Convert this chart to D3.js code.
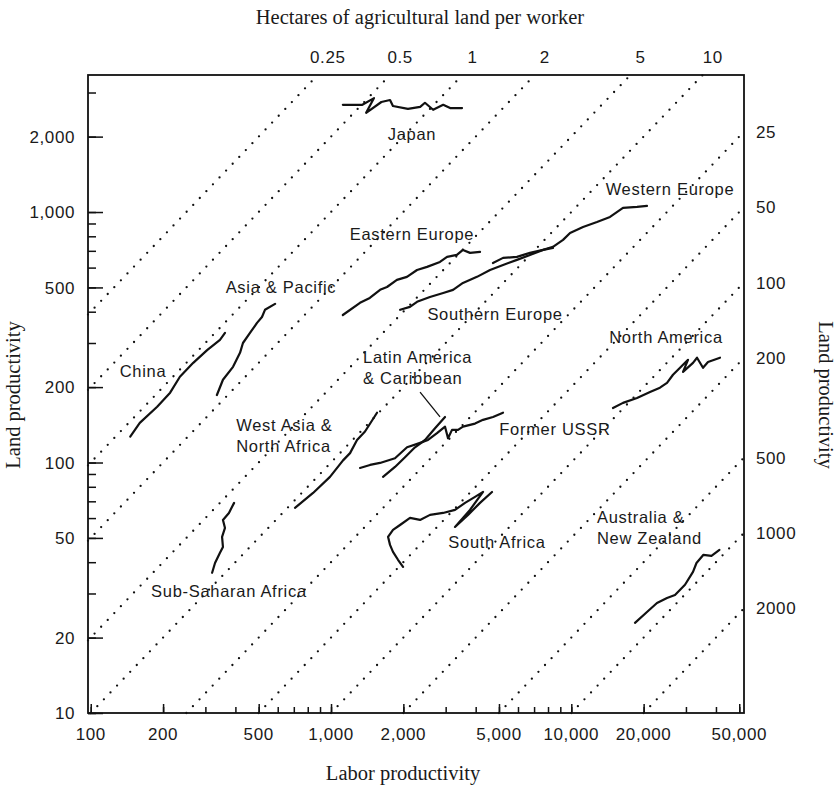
<!DOCTYPE html>
<html>
<head>
<meta charset="utf-8">
<script src="https://cdn.jsdelivr.net/npm/d3@7"></script>
<style>
  body { margin: 0; background: #fff; }
  svg text { font-family: "Liberation Sans", Arial, Helvetica, sans-serif; fill: #1a1a1a; }
  .tick-label { font-size: 17px; letter-spacing: 0.6px; }
  .region-label { font-size: 16.5px; letter-spacing: 0.7px; }
  .axis-title { font-family: "Liberation Serif", "Times New Roman", serif; font-size: 20.5px; }
</style>
</head>
<body>
<svg id="chart" width="840" height="788"></svg>
<script>
// ---- tick values ----
const laborTicks = [100, 200, 500, 1000, 2000, 5000, 10000, 20000, 50000];
const landTicks = [10, 20, 50, 100, 200, 500, 1000, 2000];
const hectaresTop = [0.25, 0.5, 1, 2, 5, 10];
const hectaresRight = [25, 50, 100, 200, 500, 1000, 2000];

// ---- regional paths (labor productivity, land productivity) ----
const japanLabor = [1120, 1350, 1510, 1400, 1620, 1760, 1810, 2090, 2350, 2460, 2660, 2930, 3130, 3510];
const japanLand  = [2680, 2680, 2850, 2490, 2750, 2800, 2650, 2580, 2630, 2730, 2560, 2680, 2600, 2600];

const eastEuLabor = [1120, 1320, 1450, 1600, 1710, 1880, 2070, 2280, 2510, 2840, 3040, 3340, 3540, 3790, 4170];
const eastEuLand  = [388, 434, 454, 489, 502, 536, 551, 587, 604, 632, 662, 674, 706, 687, 693];

const southEuLabor = [1940, 2130, 2280, 2580, 2930, 3220, 3540, 4050, 4590, 5200, 5940, 6730, 7630, 8390];
const southEuLand  = [407, 418, 438, 458, 475, 489, 521, 551, 587, 615, 644, 674, 706, 719];

const westEuLabor = [4720, 5200, 5940, 6730, 7630, 8390, 9240, 9880, 11190, 12790, 14490, 16410, 18770, 20650];
const westEuLand  = [626, 656, 662, 687, 706, 726, 774, 825, 872, 913, 956, 1039, 1048, 1058];

const asiaPacLabor = [335, 355, 391, 418, 430, 460, 492, 516, 531, 585];
const asiaPacLand  = [186, 214, 241, 274, 300, 329, 361, 381, 407, 430];

const chinaLabor = [146, 160, 189, 214, 235, 267, 305, 345, 362];
const chinaLand  = [127, 144, 167, 190, 220, 250, 281, 309, 329];

const westAsiaLabor = [708, 842, 990, 1122, 1200, 1283, 1385, 1554];
const westAsiaLand  = [65.9, 75.6, 87.6, 102, 109, 123, 133, 158];

const subSaharaLabor = [320, 329, 345, 355, 352, 362, 355, 376, 387, 395];
const subSaharaLand  = [36.3, 39.7, 43.6, 46.0, 50.5, 54.8, 59.0, 62.9, 66.5, 69.0];

const latAmLabor = [1646, 1846, 2032, 2236, 2462, 2709, 2982];
const latAmLand  = [87.6, 96.0, 105, 115, 123, 137, 152];

const ussrLabor = [1320, 1453, 1599, 1846, 2072, 2301, 2533, 2761, 2982, 3068, 3188, 3377, 3542, 3975, 4292, 4723, 5197];
const ussrLand  = [95.1, 97.8, 99.6, 104, 115, 119, 123, 131, 139, 125, 135, 135, 139, 143, 148, 152, 158];

const southAfLabor = [1994, 1900, 1811, 1760, 1727, 1811, 1937, 2132, 2347, 2582, 2925, 3281, 3612, 3975, 4292, 3787, 3281, 3718, 4169, 4677];
const southAfLand  = [38.3, 40.9, 44.0, 46.9, 50.5, 53.8, 56.3, 60.1, 59.0, 61.8, 62.9, 64.7, 69.0, 72.9, 76.3, 64.7, 55.3, 61.8, 69.0, 76.3];

const northAmLabor = [14910, 16410, 18770, 21260, 23390, 25020, 26500, 28350, 30600, 29170, 32100, 33360, 35330, 37060, 41580];
const northAmLand  = [165, 173, 181, 191, 199, 208, 224, 239, 257, 230, 250, 262, 239, 252, 262];

const anzLabor = [18410, 20650, 22730, 25020, 27010, 29730, 32100, 33190, 35480, 38310, 41360];
const anzLand  = [22.9, 25.3, 27.5, 28.8, 29.6, 32.5, 36.6, 39.7, 42.8, 42.4, 44.8];

// ---- region names and where their names sit (labor, land of the text anchor) ----
const regionNames = ["Japan", "Eastern Europe", "Western Europe", "Southern Europe", "Asia & Pacific",
  "China", "Latin America\n& Caribbean", "West Asia &\nNorth Africa", "Former USSR", "North America",
  "Sub-Saharan Africa", "South Africa", "Australia &\nNew Zealand"];
const nameAnchorLabor = [2173, 2173, 25750, 4814, 619, 165, 1359, 403, 8553, 24780, 376, 4907, 12790];
const nameAnchorLand  = [1940, 774, 1170, 371, 475, 220, 250, 133, 129, 300, 29.1, 45.6, 57.4];
const nameAlign = ["middle", "middle", "middle", "middle", "middle", "middle", "start", "start",
  "middle", "middle", "middle", "middle", "start"];

// leader from the Latin America name to its path
const leaderLabor = [2347, 2842];
const leaderLand  = [191, 152];

const paths = [
  [japanLabor, japanLand], [eastEuLabor, eastEuLand], [southEuLabor, southEuLand],
  [westEuLabor, westEuLand], [asiaPacLabor, asiaPacLand], [chinaLabor, chinaLand],
  [westAsiaLabor, westAsiaLand], [subSaharaLabor, subSaharaLand], [latAmLabor, latAmLand],
  [ussrLabor, ussrLand], [southAfLabor, southAfLand], [northAmLabor, northAmLand],
  [anzLabor, anzLand]
].map(([lx, ly]) => lx.map((v, i) => [v, ly[i]]));

// ---- layout ----
const svg = d3.select("#chart");
const plotLeft = 88, plotRight = 744, plotTop = 75, plotBottom = 713;

const x = d3.scaleLog().domain([97.4, 52330]).range([plotLeft, plotRight]);
const y = d3.scaleLog().domain([10, 3524]).range([plotBottom, plotTop]);

const [xMin, xMax] = x.domain();
const [yMin, yMax] = y.domain();

// minor ticks: every 1..9 multiple inside the domain
function minorTicks(lo, hi) {
  const out = [];
  for (let p = Math.floor(Math.log10(lo)); p <= Math.ceil(Math.log10(hi)); p++) {
    for (let m = 1; m <= 9; m++) {
      const v = m * Math.pow(10, p);
      if (v >= lo && v <= hi) out.push(v);
    }
  }
  return out;
}

// ---- iso-hectare dotted guides: land = labor / hectares ----
const hectares = hectaresTop.concat(hectaresRight);
const guide = d3.line().x(d => x(d[0])).y(d => y(d[1]));
svg.append("g").selectAll("path").data(hectares).join("path")
  .attr("d", h => {
    const x0 = Math.max(xMin, h * yMin);
    const x1 = Math.min(xMax, h * yMax);
    return guide([[x0, x0 / h], [x1, x1 / h]]);
  })
  .attr("fill", "none")
  .attr("stroke", "#111")
  .attr("stroke-width", 2.3)
  .attr("stroke-linecap", "round")
  .attr("stroke-dasharray", "0 9.5");

// ---- axes ----
// bottom: minor then labelled ticks, pointing inward
svg.append("g").attr("transform", `translate(0,${plotBottom})`)
  .call(d3.axisTop(x).tickValues(minorTicks(xMin, xMax)).tickSize(6).tickFormat(""))
  .call(g => g.select(".domain").remove());
svg.append("g").attr("transform", `translate(0,${plotBottom})`)
  .call(d3.axisTop(x).tickValues(laborTicks.filter(v => v <= xMax)).tickSize(9).tickFormat(""))
  .call(g => g.select(".domain").remove());
svg.append("g").selectAll("text").data(laborTicks).join("text")
  .attr("class", "tick-label")
  .attr("x", d => x(d))
  .attr("y", plotBottom + 27)
  .attr("text-anchor", "middle")
  .text(d3.format(","));

// left: minor then labelled ticks, pointing inward
svg.append("g").attr("transform", `translate(${plotLeft},0)`)
  .call(d3.axisRight(y).tickValues(minorTicks(yMin, yMax)).tickSize(8).tickFormat(""))
  .call(g => g.select(".domain").remove());
svg.append("g").attr("transform", `translate(${plotLeft},0)`)
  .call(d3.axisRight(y).tickValues(landTicks).tickSize(15).tickFormat(""))
  .call(g => g.select(".domain").remove());
svg.append("g").selectAll("text").data(landTicks).join("text")
  .attr("class", "tick-label")
  .attr("x", plotLeft - 13)
  .attr("y", d => y(d))
  .attr("dy", "0.36em")
  .attr("text-anchor", "end")
  .text(d3.format(","));

svg.selectAll(".tick line").attr("stroke", "#111").attr("stroke-width", 1.5);

// top: hectares where each guide meets the upper edge
svg.append("g").selectAll("text").data(hectaresTop).join("text")
  .attr("class", "tick-label")
  .attr("x", h => x(h * yMax) + 10)
  .attr("y", plotTop - 12)
  .attr("text-anchor", "middle")
  .text(d => d);

// right: hectares where each guide meets the right edge
svg.append("g").selectAll("text").data(hectaresRight).join("text")
  .attr("class", "tick-label")
  .attr("x", plotRight + 12)
  .attr("y", h => y(xMax / h))
  .attr("dy", "0.36em")
  .attr("text-anchor", "start")
  .text(d => d);

// frame
svg.append("rect")
  .attr("x", plotLeft).attr("y", plotTop)
  .attr("width", plotRight - plotLeft).attr("height", plotBottom - plotTop)
  .attr("fill", "none").attr("stroke", "#111").attr("stroke-width", 1.8);

// ---- regional paths ----
const line = d3.line().x(d => x(d[0])).y(d => y(d[1]));
svg.append("g").selectAll("path").data(paths).join("path")
  .attr("d", line)
  .attr("fill", "none")
  .attr("stroke", "#111")
  .attr("stroke-width", 2.2)
  .attr("stroke-linejoin", "round")
  .attr("stroke-linecap", "round");

svg.append("line")
  .attr("x1", x(leaderLabor[0])).attr("y1", y(leaderLand[0]))
  .attr("x2", x(leaderLabor[1])).attr("y2", y(leaderLand[1]))
  .attr("stroke", "#111").attr("stroke-width", 1.3);

// ---- region names ----
const names = svg.append("g").selectAll("text").data(regionNames).join("text")
  .attr("class", "region-label")
  .attr("text-anchor", (d, i) => nameAlign[i])
  .attr("x", (d, i) => x(nameAnchorLabor[i]))
  .attr("y", (d, i) => y(nameAnchorLand[i]));
names.each(function (d, i) {
  const t = d3.select(this);
  d.split("\n").forEach((part, k) => {
    t.append("tspan")
      .attr("x", x(nameAnchorLabor[i]))
      .attr("dy", k === 0 ? 0 : 21)
      .text(part);
  });
});

// ---- axis titles ----
svg.append("text").attr("class", "axis-title")
  .attr("x", 420).attr("y", 24).attr("text-anchor", "middle")
  .text("Hectares of agricultural land per worker");
svg.append("text").attr("class", "axis-title")
  .attr("x", 403).attr("y", 780).attr("text-anchor", "middle")
  .text("Labor productivity");
svg.append("text").attr("class", "axis-title")
  .attr("transform", "translate(20,395) rotate(-90)").attr("text-anchor", "middle")
  .text("Land productivity");
svg.append("text").attr("class", "axis-title")
  .attr("transform", "translate(819,395) rotate(90)").attr("text-anchor", "middle")
  .text("Land productivity");
</script>
</body>
</html>
